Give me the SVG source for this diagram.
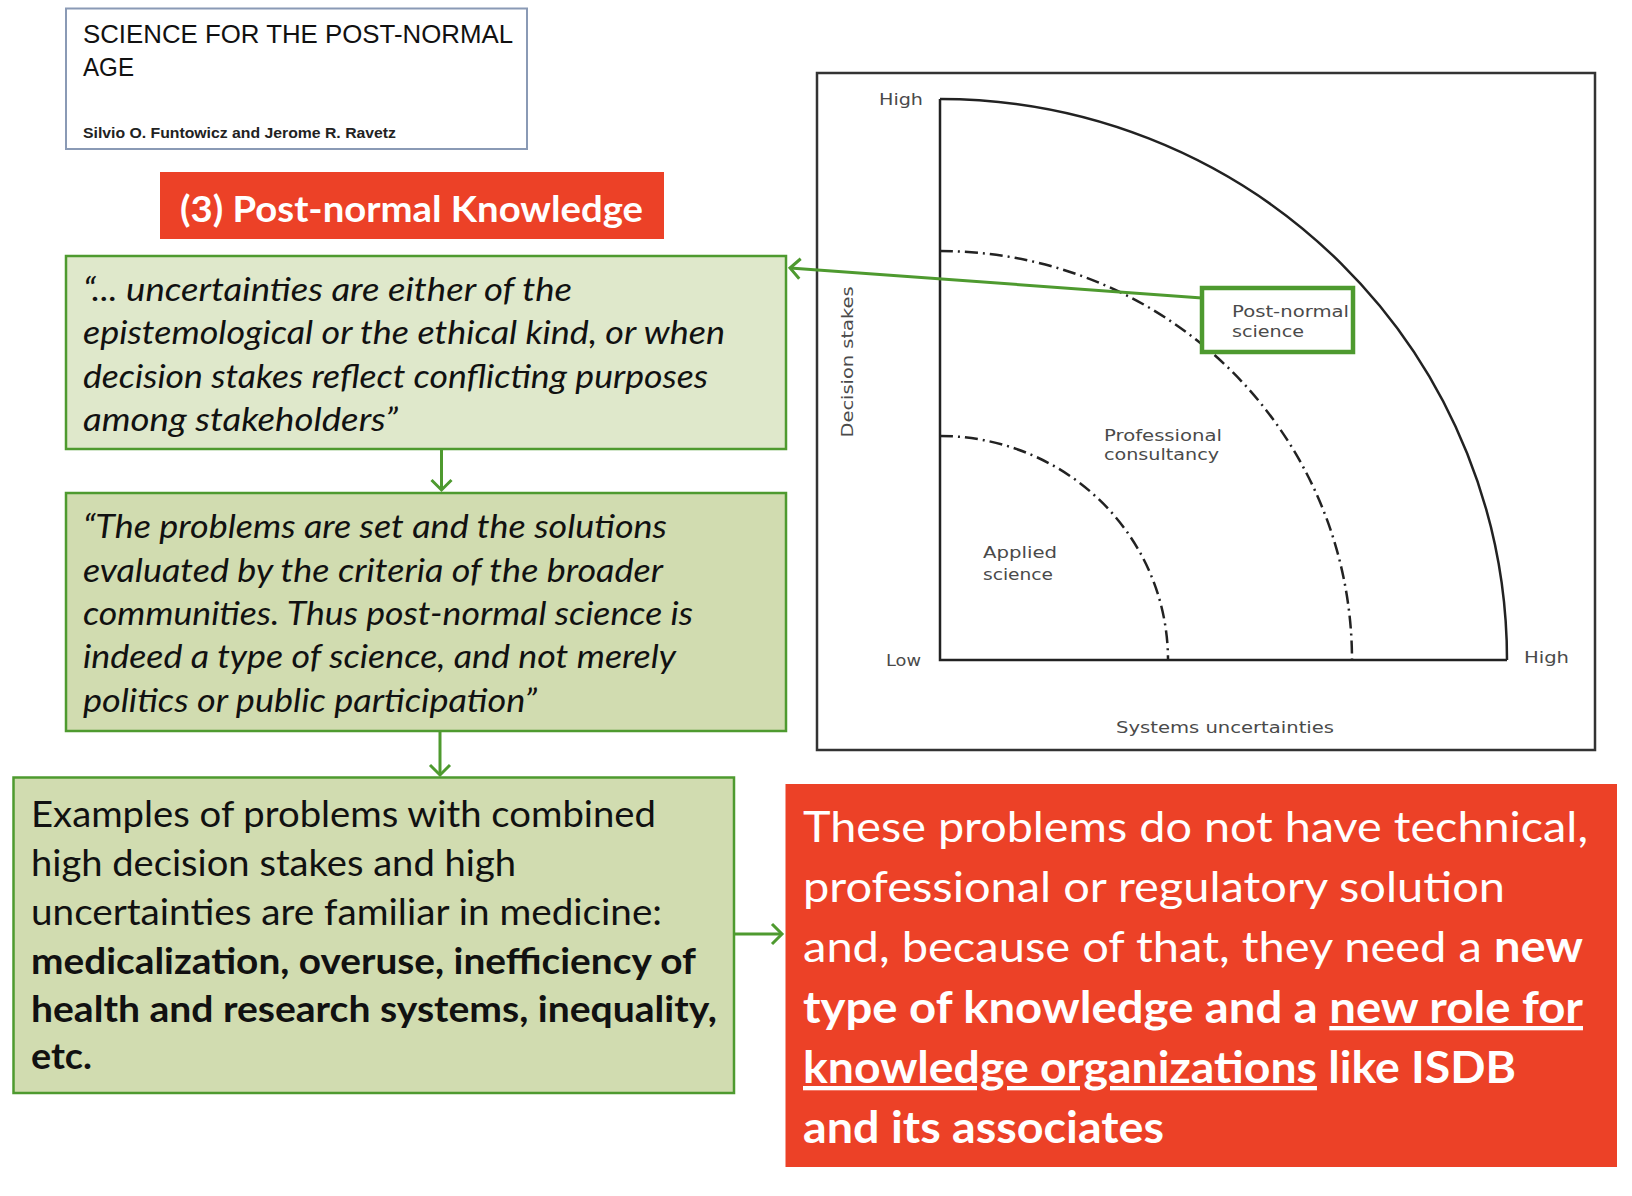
<svg xmlns="http://www.w3.org/2000/svg" width="1632" height="1196" viewBox="0 0 1632 1196">
<style>
.gbox{stroke:#4e9a2f;stroke-width:2.5}
.light{fill:#dfe8cb}
.mid{fill:#d1dcb0}
.red{fill:#ec4127}
.q{font-family:Lato,"Open Sans",sans-serif;font-style:italic;font-size:33px;fill:#111}
.ex{font-family:Lato,"Open Sans",sans-serif;font-size:36px;fill:#111}
.rt{font-family:Lato,"Open Sans",sans-serif;font-size:43px;fill:#fff}
.b{font-weight:bold}
.u{text-decoration:underline;text-decoration-skip-ink:none}
.ch{font-family:"DejaVu Sans",sans-serif;font-size:16px;fill:#4a4a4a}
.conn{stroke:#4e9a2f;stroke-width:3;fill:none}
.arc{fill:none;stroke:#222;stroke-width:2.5}
</style>
<defs>
<marker id="ah" markerUnits="userSpaceOnUse" markerWidth="24" markerHeight="24" refX="12" refY="10" orient="auto" viewBox="0 0 24 20">
<path d="M2,0 L12,10 L2,20" fill="none" stroke="#4e9a2f" stroke-width="3"/>
</marker>
</defs>
<rect width="1632" height="1196" fill="#fff"/>

<g id="paper-title">
<rect x="66" y="8.5" width="461" height="140.5" fill="#fff" stroke="#8a9ab5" stroke-width="2"/>
<text x="83" y="43" font-family="'Liberation Sans',sans-serif" font-size="25" fill="#111" textLength="430" lengthAdjust="spacingAndGlyphs">SCIENCE FOR THE POST-NORMAL</text>
<text x="83" y="76" font-family="'Liberation Sans',sans-serif" font-size="25" fill="#111" textLength="51" lengthAdjust="spacingAndGlyphs">AGE</text>
<text x="83" y="138" font-family="'Liberation Sans',sans-serif" font-size="14" font-weight="bold" fill="#222" textLength="313" lengthAdjust="spacingAndGlyphs">Silvio O. Funtowicz and Jerome R. Ravetz</text>
</g>

<g id="header">
<rect x="160" y="172" width="504" height="67" class="red"/>
<text x="180" y="222" font-family="Lato,'Open Sans',sans-serif" font-size="36" font-weight="bold" fill="#fff" textLength="463" lengthAdjust="spacingAndGlyphs">(3) Post-normal Knowledge</text>
</g>

<g id="chart">
<rect x="817" y="73" width="778" height="677" fill="#fff" stroke="#333" stroke-width="2.5"/>
<polyline points="940,99 940,660 1507,660" class="arc"/>
<path d="M940,99 A567,561 0 0 1 1507,660" class="arc"/>
<path d="M940,251 A412,409 0 0 1 1352,660" class="arc" stroke-dasharray="13 5 2 5"/>
<path d="M940,436 A228,224 0 0 1 1168,660" class="arc" stroke-dasharray="13 5 2 5"/>
<text class="ch" x="879" y="105" textLength="44" lengthAdjust="spacingAndGlyphs">High</text>
<text class="ch" x="886" y="666" textLength="35" lengthAdjust="spacingAndGlyphs">Low</text>
<text class="ch" x="1524" y="663" textLength="45" lengthAdjust="spacingAndGlyphs">High</text>
<text class="ch" x="1116" y="733" textLength="218" lengthAdjust="spacingAndGlyphs">Systems  uncertainties</text>
<text class="ch" transform="translate(853,362) rotate(-90)" text-anchor="middle" textLength="151" lengthAdjust="spacingAndGlyphs">Decision  stakes</text>
<text class="ch" x="1104" y="441" textLength="118" lengthAdjust="spacingAndGlyphs">Professional</text>
<text class="ch" x="1104" y="460" textLength="115" lengthAdjust="spacingAndGlyphs">consultancy</text>
<text class="ch" x="983" y="558" textLength="74" lengthAdjust="spacingAndGlyphs">Applied</text>
<text class="ch" x="983" y="580" textLength="70" lengthAdjust="spacingAndGlyphs">science</text>
</g>

<g id="pns-label">
<rect x="1202" y="288" width="151" height="64" fill="#fff" stroke="#4e9a2f" stroke-width="4.5"/>
<text class="ch" x="1232" y="317" textLength="117" lengthAdjust="spacingAndGlyphs">Post-normal</text>
<text class="ch" x="1232" y="337" textLength="72" lengthAdjust="spacingAndGlyphs">science</text>
</g>

<g id="quote1">
<rect x="66" y="256" width="720" height="193" class="gbox light"/>
<text class="q" x="83" y="301" textLength="489" lengthAdjust="spacingAndGlyphs">“... uncertainties are either of the</text>
<text class="q" x="83" y="344" textLength="642" lengthAdjust="spacingAndGlyphs">epistemological or the ethical kind, or when</text>
<text class="q" x="83" y="388" textLength="625" lengthAdjust="spacingAndGlyphs">decision stakes reflect conflicting purposes</text>
<text class="q" x="83" y="431" textLength="315" lengthAdjust="spacingAndGlyphs">among stakeholders”</text>
</g>

<g id="quote2">
<rect x="66" y="493" width="720" height="238" class="gbox mid"/>
<text class="q" x="83" y="538" textLength="584" lengthAdjust="spacingAndGlyphs">“The problems are set and the solutions</text>
<text class="q" x="83" y="582" textLength="580" lengthAdjust="spacingAndGlyphs">evaluated by the criteria of the broader</text>
<text class="q" x="83" y="625" textLength="610" lengthAdjust="spacingAndGlyphs">communities. Thus post-normal science is</text>
<text class="q" x="83" y="668" textLength="593" lengthAdjust="spacingAndGlyphs">indeed a type of science, and not merely</text>
<text class="q" x="83" y="712" textLength="454" lengthAdjust="spacingAndGlyphs">politics or public participation”</text>
</g>

<g id="examples">
<rect x="13.5" y="777.5" width="720.5" height="315.5" class="gbox mid"/>
<text class="ex" x="31" y="827" textLength="625" lengthAdjust="spacingAndGlyphs">Examples of problems with combined</text>
<text class="ex" x="31" y="876" textLength="485" lengthAdjust="spacingAndGlyphs">high decision stakes and high</text>
<text class="ex" x="31" y="925" textLength="631" lengthAdjust="spacingAndGlyphs">uncertainties are familiar in medicine:</text>
<text class="ex b" x="31" y="974" textLength="665" lengthAdjust="spacingAndGlyphs">medicalization, overuse, inefficiency of</text>
<text class="ex b" x="31" y="1022" textLength="686" lengthAdjust="spacingAndGlyphs">health and research systems, inequality,</text>
<text class="ex b" x="31" y="1069" textLength="61" lengthAdjust="spacingAndGlyphs">etc.</text>
</g>

<g id="conclusion">
<rect x="785.5" y="784" width="831.5" height="383" class="red"/>
<text class="rt" x="803" y="842" textLength="785" lengthAdjust="spacingAndGlyphs">These problems do not have technical,</text>
<text class="rt" x="803" y="902" textLength="702" lengthAdjust="spacingAndGlyphs">professional or regulatory solution</text>
<text class="rt" x="803" y="962" textLength="780" lengthAdjust="spacingAndGlyphs">and, because of that, they need a <tspan class="b">new</tspan></text>
<text class="rt b" x="803" y="1023" textLength="780" lengthAdjust="spacingAndGlyphs">type of knowledge and a <tspan class="u">new role for</tspan></text>
<text class="rt b" x="803" y="1083" textLength="713" lengthAdjust="spacingAndGlyphs"><tspan class="u">knowledge organizations</tspan> like ISDB</text>
<text class="rt b" x="803" y="1143" textLength="361" lengthAdjust="spacingAndGlyphs">and its associates</text>
</g>

<g id="connectors">
<line x1="1202" y1="298" x2="790" y2="268" class="conn" marker-end="url(#ah)"/>
<line x1="441.5" y1="450" x2="441.5" y2="490" class="conn" marker-end="url(#ah)"/>
<line x1="440" y1="732" x2="440" y2="775" class="conn" marker-end="url(#ah)"/>
<line x1="735" y1="934" x2="782" y2="934" class="conn" marker-end="url(#ah)"/>
</g>
</svg>
